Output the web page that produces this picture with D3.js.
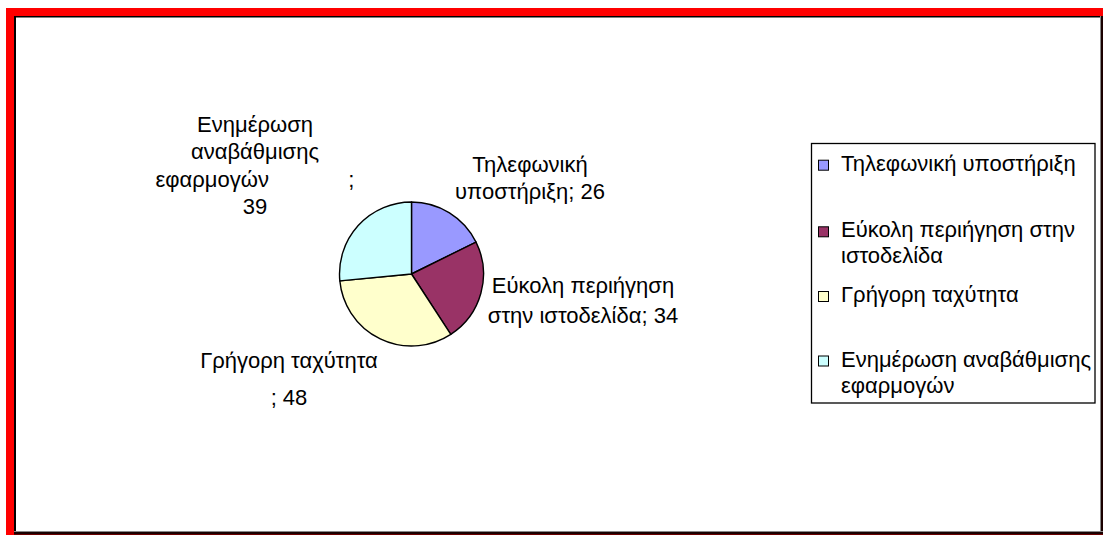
<!DOCTYPE html>
<html>
<head>
<meta charset="utf-8">
<script src="https://cdn.jsdelivr.net/npm/d3@7"></script>
<style>
  html, body { margin: 0; padding: 0; background: #fff; }
  svg { display: block; }
  text { font-family: "Liberation Sans", Arial, sans-serif; fill: #000; }
</style>
</head>
<body>
<svg id="chart" width="1103" height="535"></svg>
<script>
// Survey answers: what users value most
const categories = [
  "Τηλεφωνική υποστήριξη",
  "Εύκολη περιήγηση στην ιστοδελίδα",
  "Γρήγορη ταχύτητα",
  "Ενημέρωση αναβάθμισης εφαρμογών"
];
const values = [26, 34, 48, 39];
const sliceColors = ["#9999FF", "#993366", "#FFFFCC", "#CCFFFF"];

// Wrapped text of each data label ({v} is replaced by the value)
const labelLines = [
  ["Τηλεφωνική", "υποστήριξη; {v}"],
  ["Εύκολη περιήγηση", "στην ιστοδελίδα; {v}"],
  ["Γρήγορη ταχύτητα", "; {v}"],
  ["Ενημέρωση", "αναβάθμισης", "εφαρμογών             ;", "{v}"]
];
// Wrapped legend entries
const legendLines = [
  ["Τηλεφωνική υποστήριξη"],
  ["Εύκολη περιήγηση στην", "ιστοδελίδα"],
  ["Γρήγορη ταχύτητα"],
  ["Ενημέρωση αναβάθμισης", "εφαρμογών"]
];

const svg = d3.select("#chart");
const W = 1103, H = 535;
const fontSize = 22;

// Frame: red band on the left and top, thin dark edges inside
svg.append("rect").attr("x", 0).attr("y", 0).attr("width", W).attr("height", H).attr("fill", "#fff");
svg.append("rect").attr("x", 6).attr("y", 8).attr("width", 8).attr("height", H - 8).attr("fill", "#FF0000");
svg.append("rect").attr("x", 6).attr("y", 8).attr("width", W - 6).attr("height", 8).attr("fill", "#FF0000");
svg.append("rect").attr("x", 14).attr("y", 16).attr("width", 2).attr("height", H - 19).attr("fill", "#000");
svg.append("rect").attr("x", 14).attr("y", 16).attr("width", W - 16).attr("height", 1.5).attr("fill", "#000");
svg.append("rect").attr("x", 1100).attr("y", 16).attr("width", 1).attr("height", H - 16).attr("fill", "#888");
svg.append("rect").attr("x", 1101).attr("y", 16).attr("width", 2).attr("height", H - 16).attr("fill", "#1a0000");
svg.append("rect").attr("x", 14).attr("y", 531).attr("width", W - 14).attr("height", 1).attr("fill", "#888");
svg.append("rect").attr("x", 14).attr("y", 532).attr("width", W - 14).attr("height", 2).attr("fill", "#1a0000");
svg.append("rect").attr("x", 14).attr("y", 534).attr("width", W - 14).attr("height", 1).attr("fill", "#6b0000");

// Pie
const cx = 411.5, cy = 274, radius = 72;
const pie = d3.pie().sort(null).value(d => d)(values);
const arc = d3.arc().innerRadius(0).outerRadius(radius);
const color = d3.scaleOrdinal().domain(categories).range(sliceColors);

const g = svg.append("g").attr("transform", `translate(${cx},${cy})`);
g.selectAll("path")
  .data(pie)
  .join("path")
  .attr("d", arc)
  .attr("fill", (d, i) => color(categories[i]))
  .attr("stroke", "#000")
  .attr("stroke-width", 1.4)
  .attr("stroke-linejoin", "round");

// Data labels: centre x, first baseline, line step
const labelLayout = [
  { x: 530, y: 171.5, step: 27 },
  { x: 583, y: 293, step: 30 },
  { x: 289, y: 368, step: 37 },
  { x: 255, y: 131.5, step: 27.6 }
];
labelLines.forEach((lines, i) => {
  const L = labelLayout[i];
  const t = svg.append("text")
    .attr("text-anchor", "middle")
    .attr("font-size", fontSize)
    .style("white-space", "pre");
  lines.forEach((ln, j) => {
    t.append("tspan")
      .attr("x", L.x)
      .attr("y", L.y + j * L.step)
      .text(ln.replace("{v}", values[i]));
  });
});

// Legend
const lg = { x: 811.5, y: 143.5, w: 283.5, h: 259.5 };
svg.append("rect")
  .attr("x", lg.x).attr("y", lg.y).attr("width", lg.w).attr("height", lg.h)
  .attr("fill", "#fff").attr("stroke", "#000").attr("stroke-width", 1.3);

const entryBaseline = [170.7, 237.3, 302, 366.5];
const legendLineStep = 26;
legendLines.forEach((lines, i) => {
  svg.append("rect")
    .attr("x", 818.5).attr("y", entryBaseline[i] - 10.5)
    .attr("width", 10).attr("height", 10)
    .attr("fill", color(categories[i]))
    .attr("stroke", "#000").attr("stroke-width", 1);
  const t = svg.append("text").attr("font-size", fontSize);
  lines.forEach((ln, j) => {
    t.append("tspan")
      .attr("x", 841)
      .attr("y", entryBaseline[i] + j * legendLineStep)
      .text(ln);
  });
});
</script>
</body>
</html>
